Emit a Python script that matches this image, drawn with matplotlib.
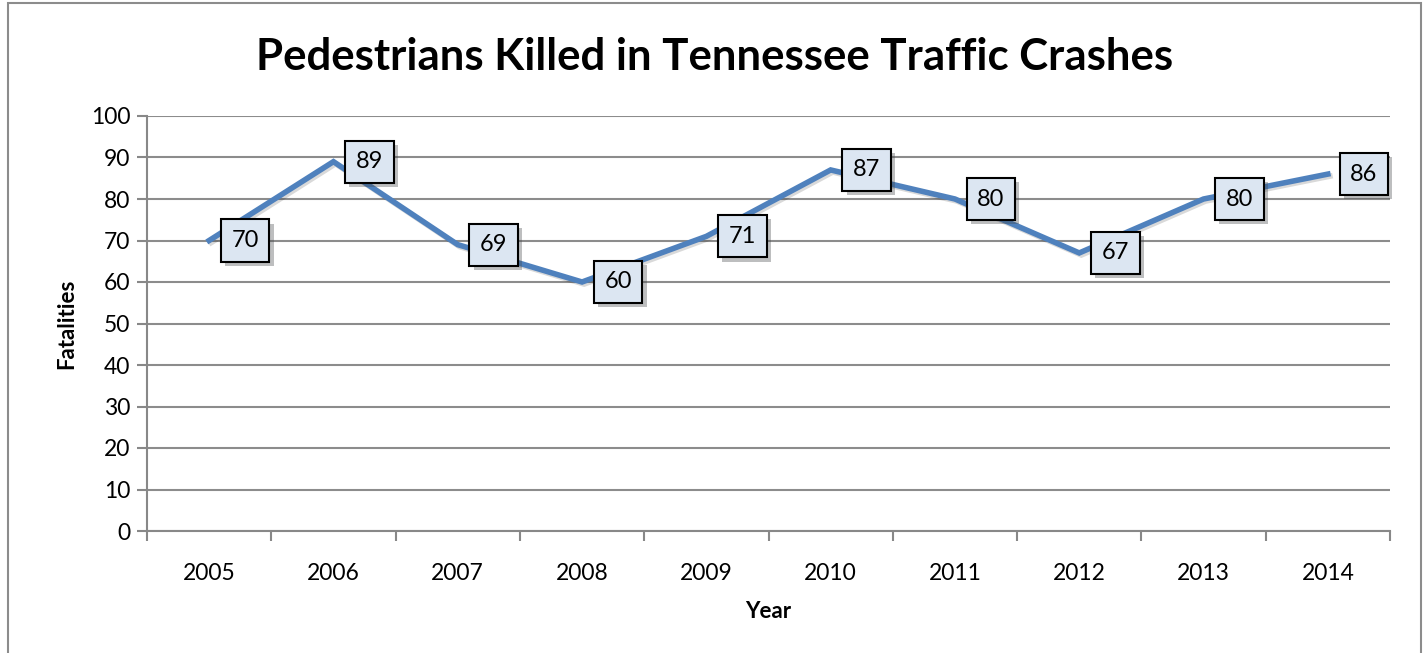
import matplotlib.pyplot as plt
import matplotlib.patheffects as pe
from matplotlib.patches import Rectangle

years = ['2005', '2006', '2007', '2008', '2009', '2010', '2011', '2012', '2013', '2014']
fatalities = [70, 89, 69, 60, 71, 87, 80, 67, 80, 86]

plt.rcParams['font.family'] = ['Lato', 'DejaVu Sans']

fig = plt.figure(figsize=(14.28, 6.53), dpi=100)
ax = fig.add_axes([147/1428, 1-531/653, (1390-147)/1428, (531-116)/653])

# outer chart border
fig.patches.append(Rectangle((8/1428, -0.05), (1421-8)/1428, 1.05-3/653,
                             transform=fig.transFigure, fill=False,
                             edgecolor='#8c8c8c', lw=1.5))

x = list(range(len(years)))
ax.plot(x, fatalities, color='#4F81BD', lw=4, solid_joinstyle='miter',
        path_effects=[pe.SimpleLineShadow(offset=(1.5, -1.5), alpha=0.15), pe.Normal()],
        zorder=3)

for xi, v in zip(x, fatalities):
    ax.annotate(str(v), (xi, v), xytext=(36, 0), textcoords='offset pixels',
                ha='center', va='center', fontsize=17, zorder=5,
                bbox=dict(boxstyle='square,pad=0.45', fc='#DCE6F2', ec='black', lw=1.5,
                          path_effects=[pe.withSimplePatchShadow(offset=(3, -3), alpha=0.35)]))

ax.set_xlim(-0.5, len(years) - 0.5)
ax.set_ylim(0, 100)
ax.set_yticks(range(0, 101, 10))
ax.set_xticks(x)
ax.set_xticklabels(years)
ax.set_xticks([i - 0.5 for i in range(len(years) + 1)], minor=True)
ax.tick_params(axis='x', which='major', length=0, labelsize=16.5, pad=23)
ax.tick_params(axis='x', which='minor', length=7, width=1.5, color='#888888')
ax.tick_params(axis='y', length=7, width=1.5, color='#888888', labelsize=16.5, pad=5)

ax.grid(axis='y', color='#8c8c8c', lw=1.5)
ax.set_axisbelow(True)
for s in ['top', 'right']:
    ax.spines[s].set_visible(False)
for s in ['left', 'bottom']:
    ax.spines[s].set_color('#888888')
    ax.spines[s].set_linewidth(1.5)

ax.set_xlabel('Year', fontsize=16, fontweight='bold', labelpad=12)
ax.set_ylabel('Fatalities', fontsize=16, fontweight='bold', labelpad=10)
fig.text(715/1428, 1-57/653, 'Pedestrians Killed in Tennessee Traffic Crashes',
         ha='center', va='center', fontsize=31.5, fontweight='bold')

plt.savefig('out.png', dpi=100)
